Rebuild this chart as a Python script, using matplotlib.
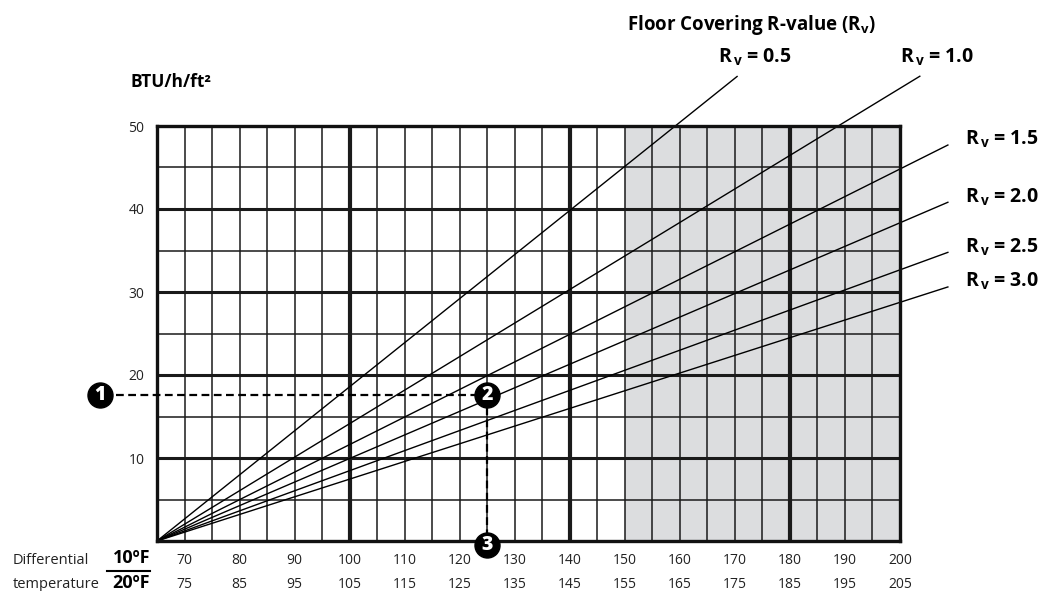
import numpy as np
import matplotlib.pyplot as plt
from matplotlib.lines import Line2D

plt.rcParams['font.family'] = ['Open Sans', 'DejaVu Sans']

# --- data ---
x_lo, x_hi = 65, 200            # 10 F differential scale
y_lo, y_hi = 0, 50              # BTU/h/ft2
rv_names = ['0.5', '1.0', '1.5', '2.0', '2.5', '3.0']
rv_slopes = [0.531, 0.404, 0.332, 0.284, 0.242, 0.213]   # BTU/h/ft2 per degree
rv_end_x = [170.4, 203.6, 208.7, 208.7, 208.7, 208.7]    # where each line stops
dt10_ticks = [70, 80, 90, 100, 110, 120, 130, 140, 150, 160, 170, 180, 190, 200]
dt20_labels = ['75', '85', '95', '105', '115', '125', '135', '145', '155', '165',
               '175', '185', '195', '205']
y_ticks = [10, 20, 30, 40, 50]
heavy_x = [100, 140, 180]
shade_start = 150
ex_x = 125      # example: read temperature
ex_y = 17.6     # example: required output
ex_left = 54.6  # position of marker 1

W, H = 1053, 591
fig = plt.figure(figsize=(W / 100, H / 100), dpi=100)
ax = fig.add_axes([157 / W, 1 - 541 / H, 743 / W, 415 / H])
ax.set_xlim(x_lo, x_hi)
ax.set_ylim(y_lo, y_hi)

gridc = '#1a1a1a'
ax.axvspan(shade_start, x_hi, color='#dcdddf', lw=0, zorder=0)
for v in np.arange(x_lo + 5, x_hi, 5):
    ax.axvline(v, color=gridc, lw=3.0 if v in heavy_x else 1.1, zorder=1)
for v in np.arange(y_lo + 5, y_hi, 5):
    ax.axhline(v, color=gridc, lw=2.2 if v % 10 == 0 else 1.1, zorder=1)
for s in ax.spines.values():
    s.set_linewidth(2.4)
    s.set_color('#111111')
    s.set_zorder(3)

# R-value lines from the origin
for name, k, xe in zip(rv_names, rv_slopes, rv_end_x):
    ye = k * (xe - x_lo)
    ax.plot([x_lo, xe], [0, ye], color='black', lw=1.0, clip_on=False, zorder=2)
    if xe < 205:
        off = (-14, 10)
    else:
        off = (12, 0)
    ax.annotate('R$_{\\mathregular{\\,v}}$ = ' + name, (xe, ye), xytext=off,
                textcoords='offset points', ha='left', va='baseline',
                fontsize=14, fontweight='bold', annotation_clip=False)

# example path 1 -> 2 -> 3
dash = (0, (3.5, 2))
ax.plot([ex_left + 3, ex_x], [ex_y, ex_y], color='black', lw=1.6, ls=dash,
        clip_on=False, zorder=4)
ax.plot([ex_x, ex_x], [ex_y, 0], color='black', lw=1.6, ls=dash,
        clip_on=False, zorder=4)
for num, (px, py) in enumerate([(ex_left, ex_y), (ex_x, ex_y), (ex_x, -0.5)], 1):
    ax.plot(px, py, 'o', ms=18, color='black', clip_on=False, zorder=5)
    ax.text(px, py, str(num), color='white', fontsize=14, fontweight='heavy',
            ha='center', va='center', zorder=6, clip_on=False)

# ticks
tc = '#222222'
ax.set_yticks(y_ticks)
ax.tick_params(axis='y', length=0, pad=9, labelsize=10, labelcolor=tc)
ax.set_xticks(dt10_ticks)
ax.tick_params(axis='x', length=0, pad=9, labelsize=10, labelcolor=tc)
sec = ax.secondary_xaxis('bottom')
sec.set_xticks(dt10_ticks, labels=dt20_labels)
sec.tick_params(length=0, pad=26, labelsize=10, labelcolor=tc)
sec.spines['bottom'].set_visible(False)

# texts
fig.text(130 / W, 1 - 87 / H, 'BTU/h/ft²', fontsize=12.5, fontweight='bold',
         ha='left', va='baseline')
fig.text(627 / W, 1 - 30 / H, 'Floor Covering R-value (R$_\\mathregular{v}$)',
         fontsize=13.5, fontweight='bold', ha='left', va='baseline')
fig.text(13 / W, 1 - 560 / H, 'Differential', fontsize=10.5, ha='left',
         va='center', color=tc)
fig.text(13 / W, 1 - 584 / H, 'temperature', fontsize=10.5, ha='left',
         va='center', color=tc)
fig.text(150 / W, 1 - 558 / H, '10ºF', fontsize=13, fontweight='bold',
         ha='right', va='center')
fig.text(150 / W, 1 - 583 / H, '20ºF', fontsize=13, fontweight='bold',
         ha='right', va='center')
fig.add_artist(Line2D([107 / W, 150 / W], [1 - 571 / H, 1 - 571 / H],
                      color='black', lw=1.5))

fig.savefig('out.png', dpi=100)
